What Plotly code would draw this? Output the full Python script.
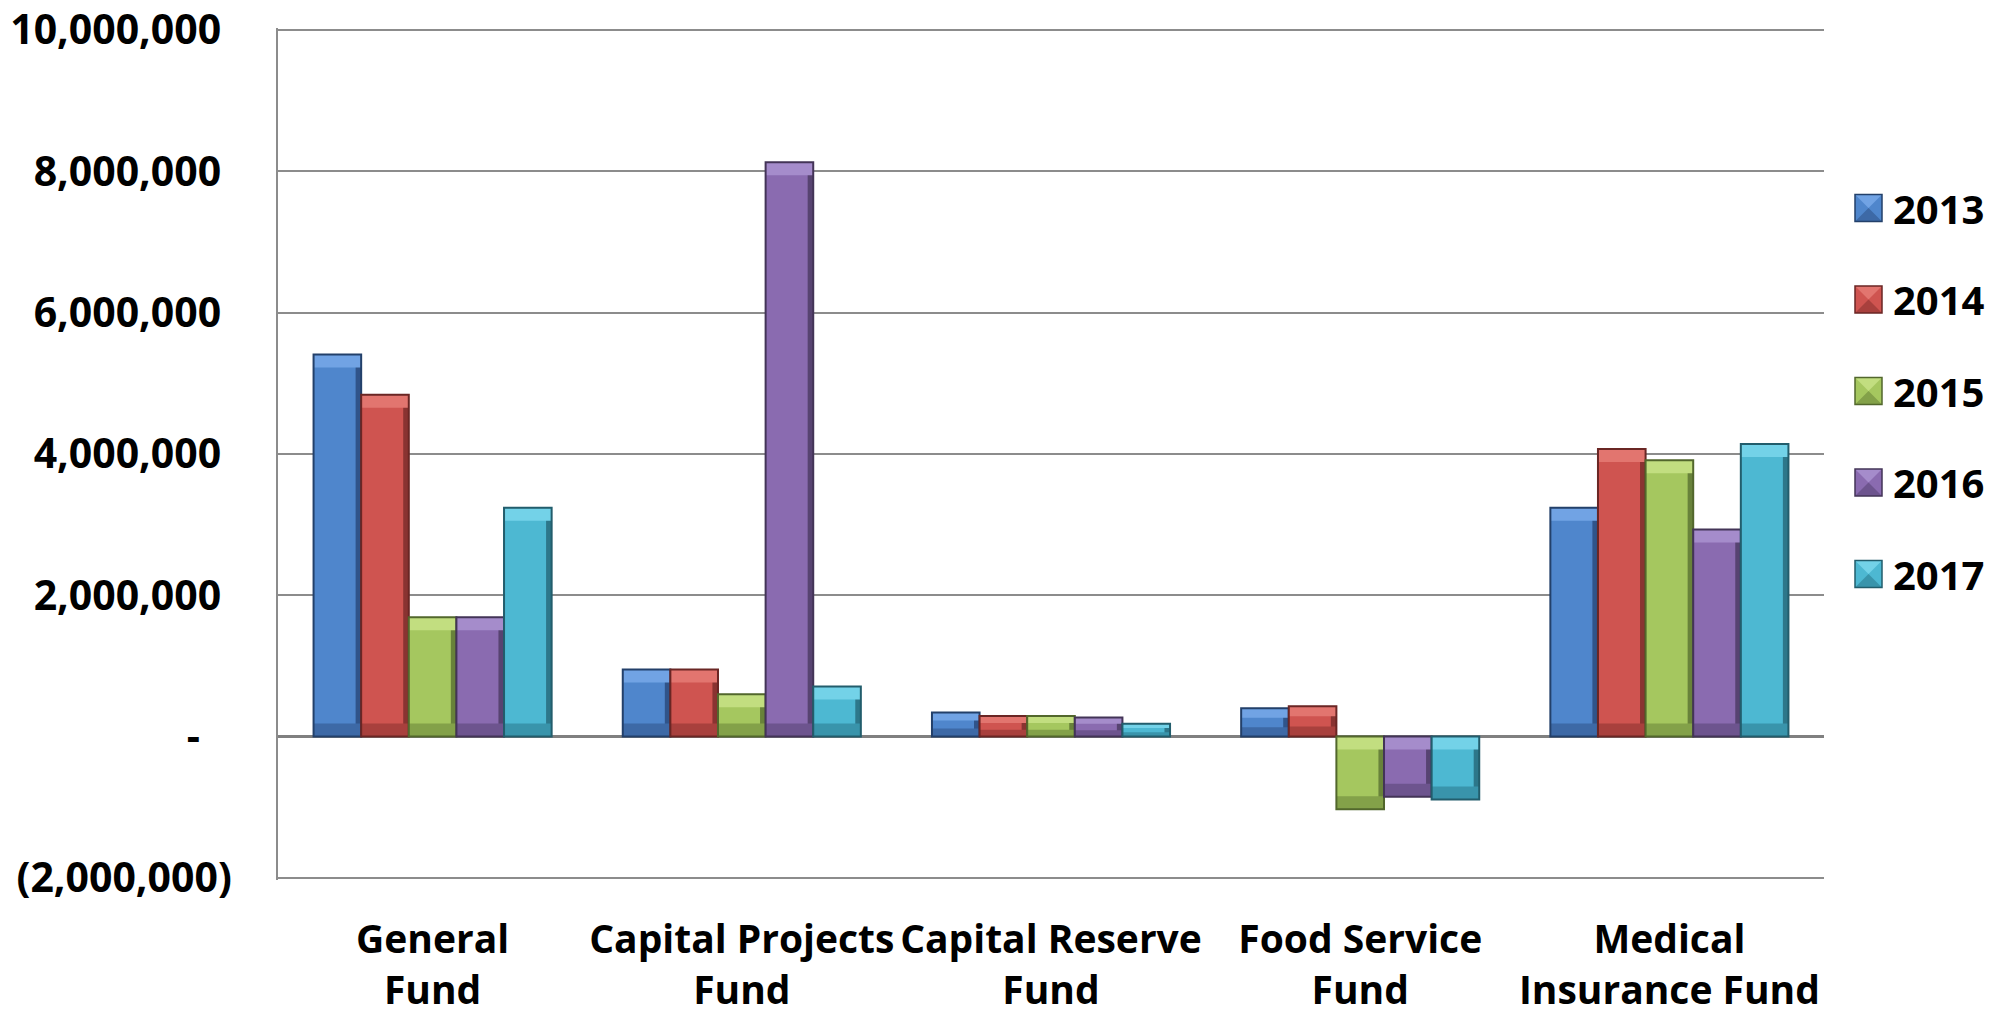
import plotly.graph_objects as go

# Fund balances by fund and fiscal year
funds = ["General<br>Fund", "Capital Projects<br>Fund", "Capital Reserve<br>Fund",
         "Food Service<br>Fund", "Medical<br>Insurance Fund"]
years = ["2013", "2014", "2015", "2016", "2017"]

fy2013 = [5410000, 950000, 340000, 400000, 3240000]
fy2014 = [4840000, 950000, 290000, 430000, 4070000]
fy2015 = [1690000, 600000, 290000, -1030000, 3910000]
fy2016 = [1690000, 8130000, 270000, -850000, 2930000]
fy2017 = [3240000, 710000, 180000, -890000, 4140000]
series = [fy2013, fy2014, fy2015, fy2016, fy2017]

tick_vals = [-2000000, 0, 2000000, 4000000, 6000000, 8000000, 10000000]
tick_text = ["(2,000,000)", "-\u00a0\u00a0\u00a0", "2,000,000\u00a0", "4,000,000\u00a0",
             "6,000,000\u00a0", "8,000,000\u00a0", "10,000,000\u00a0"]

# bevel palette per year: face, top bevel, bottom bevel, right shade, outline
palette = [
    ("#4f86cc", "#71a3e4", "#3d69a6", "#30548a", "#23406a"),
    ("#cf5450", "#e2756f", "#a8403d", "#893331", "#6a2624"),
    ("#a5c75f", "#c2de80", "#83a149", "#68823a", "#52672c"),
    ("#8a6bb0", "#a58ccb", "#6d548e", "#574371", "#433457"),
    ("#4db8d2", "#73d2e8", "#3994ab", "#2d778a", "#225d6c"),
]

W, H = 2009, 1014
M_L, M_R, M_T, M_B = 278, 185, 28, 134
FONT = "Open Sans"
Y_MIN, Y_MAX = -2030000, 10030000

pw, ph = W - M_L - M_R, H - M_T - M_B
units_per_px = (Y_MAX - Y_MIN) / ph

group_w = 0.77
bar_w = group_w / len(years)
bevel_px = 13
shade_w = 0.018

fig = go.Figure()
for i, (yr, vals, pal) in enumerate(zip(years, series, palette)):
    face, top_c, bot_c, shade_c, edge_c = pal
    off = -group_w / 2 + i * bar_w
    hi = [max(v, 0) for v in vals]
    lo = [min(v, 0) for v in vals]
    bev = [min(bevel_px * units_per_px, abs(v) / 3) for v in vals]

    # bar face
    fig.add_trace(go.Bar(name=yr, x=funds, y=vals, offset=off, width=bar_w,
                         marker=dict(color=face, line=dict(width=0)),
                         showlegend=False, hoverinfo="skip"))
    # darker right-hand side
    fig.add_trace(go.Bar(x=funds, y=vals, offset=off + bar_w - shade_w, width=shade_w,
                         marker=dict(color=shade_c, line=dict(width=0)),
                         showlegend=False, hoverinfo="skip"))
    # light top bevel
    fig.add_trace(go.Bar(x=funds, y=bev, base=[h - b for h, b in zip(hi, bev)],
                         offset=off, width=bar_w,
                         marker=dict(color=top_c, line=dict(width=0)),
                         showlegend=False, hoverinfo="skip"))
    # dark bottom bevel
    fig.add_trace(go.Bar(x=funds, y=bev, base=lo,
                         offset=off, width=bar_w,
                         marker=dict(color=bot_c, line=dict(width=0)),
                         showlegend=False, hoverinfo="skip"))
    # outline
    fig.add_trace(go.Bar(x=funds, y=vals, offset=off, width=bar_w,
                         marker=dict(color="rgba(0,0,0,0)", line=dict(color=edge_c, width=2)),
                         showlegend=False, hoverinfo="skip"))

# Legend: swatches with labels on the right
sw_x0, sw_size, lab_x = 1855, 27, 1891
row_y0, row_step = 208, 91.5
shapes, annots = [], []
for i, (yr, pal) in enumerate(zip(years, palette)):
    face, top_c, bot_c, shade_c, edge_c = pal
    cy = row_y0 + i * row_step
    x0 = (sw_x0 - M_L) / pw
    x1 = (sw_x0 + sw_size - M_L) / pw
    y0 = (H - M_B - (cy + sw_size / 2)) / ph
    y1 = (H - M_B - (cy - sw_size / 2)) / ph
    ym = (y0 + y1) / 2
    shapes.append(dict(type="rect", xref="paper", yref="paper",
                       x0=x0, x1=x1, y0=y0, y1=y1,
                       fillcolor=face, line=dict(width=0)))
    shapes.append(dict(type="path", xref="paper", yref="paper",
                       path=f"M{x0},{y1} L{x1},{y1} L{(x0 + x1) / 2},{ym} Z",
                       fillcolor=top_c, line=dict(width=0)))
    shapes.append(dict(type="path", xref="paper", yref="paper",
                       path=f"M{x0},{y0} L{x1},{y0} L{(x0 + x1) / 2},{ym} Z",
                       fillcolor=bot_c, line=dict(width=0)))
    shapes.append(dict(type="rect", xref="paper", yref="paper",
                       x0=x0, x1=x1, y0=y0, y1=y1,
                       fillcolor="rgba(0,0,0,0)", line=dict(color=edge_c, width=1.5)))
    annots.append(dict(xref="paper", yref="paper",
                       x=(lab_x - M_L) / pw, y=(H - M_B - cy) / ph,
                       text=yr, showarrow=False, xanchor="left", yanchor="middle",
                       font=dict(family=FONT, size=40, color="black", weight="bold")))

fig.update_layout(
    width=W, height=H,
    margin=dict(l=M_L, r=M_R, t=M_T, b=M_B),
    paper_bgcolor="white", plot_bgcolor="white",
    barmode="overlay",
    font=dict(family=FONT, color="black"),
    shapes=shapes, annotations=annots,
    xaxis=dict(
        showgrid=False, showline=False, zeroline=False, automargin=False,
        tickfont=dict(family=FONT, size=39, color="black", weight="bold"),
        ticks="", ticklabelstandoff=33, ticklabeloverflow="allow",
    ),
    yaxis=dict(
        range=[Y_MIN, Y_MAX], automargin=False,
        tickvals=tick_vals, ticktext=tick_text,
        tickfont=dict(family=FONT, size=41, color="black", weight="bold"),
        showgrid=True, gridcolor="#8c8c8c", gridwidth=2,
        zeroline=True, zerolinecolor="#808080", zerolinewidth=3,
        showline=True, linecolor="#8c8c8c", linewidth=2,
        ticks="", ticklabelstandoff=36, ticklabeloverflow="allow",
    ),
)

fig.write_html("out.html")
